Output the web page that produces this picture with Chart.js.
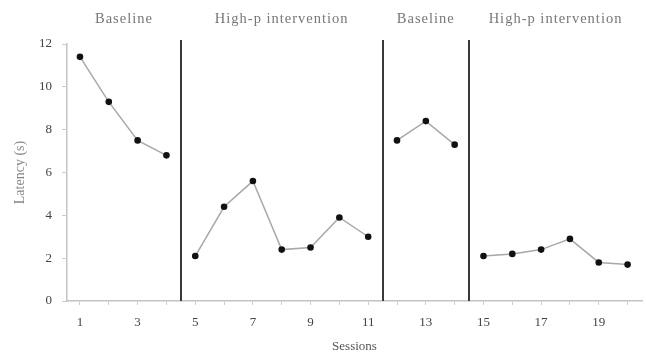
<!DOCTYPE html>
<html>
<head>
<meta charset="utf-8">
<script src="https://cdn.jsdelivr.net/npm/chart.js@4/dist/chart.umd.min.js"></script>
<style>
  html, body { margin: 0; padding: 0; background: #fff; }
  #wrap { width: 646px; height: 354px; }
</style>
</head>
<body>
<div id="wrap"><canvas id="chart" width="646" height="354"></canvas></div>
<script>
// data
const sessions = [1, 2, 3, 4, 5, 6, 7, 8, 9, 10, 11, 12, 13, 14, 15, 16, 17, 18, 19, 20];
const latency = [11.4, 9.3, 7.5, 6.8, 2.1, 4.4, 5.6, 2.4, 2.5, 3.9, 3.0, 7.5, 8.4, 7.3, 2.1, 2.2, 2.4, 2.9, 1.8, 1.7];
const phaseBreaks = [4.5, 11.5, 14.5];
const phaseLabels = ['Baseline', 'High-p intervention', 'Baseline', 'High-p intervention'];
const xTickLabels = [1, 3, 5, 7, 9, 11, 13, 15, 17, 19];
const yTicks = [0, 2, 4, 6, 8, 10, 12];

const X_MIN = 0.55, X_MAX = 20.5;
const serif = '"Liberation Serif", "DejaVu Serif", serif';

// split the series into one dataset per phase so lines break at phase changes
const bounds = [X_MIN, ...phaseBreaks, X_MAX];
const datasets = [];
for (let p = 0; p < bounds.length - 1; p++) {
    const pts = [];
    sessions.forEach((s, i) => {
        if (s > bounds[p] && s < bounds[p + 1]) pts.push({ x: s, y: latency[i] });
    });
    datasets.push({
        data: pts,
        borderColor: '#a8a8a8',
        borderWidth: 1.5,
        pointBackgroundColor: '#111',
        pointBorderWidth: 0,
        pointRadius: 3.3,
        tension: 0
    });
}

// phase lines + phase titles
const phasePlugin = {
    id: 'phases',
    afterDatasetsDraw(chart) {
        const { ctx, chartArea, scales } = chart;
        ctx.save();
        ctx.strokeStyle = '#3a3a3a';
        ctx.lineWidth = 2;
        phaseBreaks.forEach(b => {
            const px = Math.round(scales.x.getPixelForValue(b));
            ctx.beginPath();
            ctx.moveTo(px, chartArea.top - 4);
            ctx.lineTo(px, chartArea.bottom);
            ctx.stroke();
        });
        ctx.fillStyle = '#777';
        ctx.font = '14.5px ' + serif;
        ctx.letterSpacing = '1px';
        ctx.textAlign = 'center';
        ctx.textBaseline = 'middle';
        for (let p = 0; p < bounds.length - 1; p++) {
            const mid = (bounds[p] + bounds[p + 1]) / 2;
            ctx.fillText(phaseLabels[p], scales.x.getPixelForValue(mid), 19);
        }
        ctx.restore();
    }
};

new Chart(document.getElementById('chart'), {
    type: 'line',
    data: { datasets: datasets },
    plugins: [phasePlugin],
    options: {
        responsive: false,
        animation: false,
        layout: { padding: { top: 44, right: 1, left: 0, bottom: 0 } },
        plugins: { legend: { display: false }, tooltip: { enabled: false } },
        scales: {
            x: {
                type: 'linear',
                min: X_MIN,
                max: X_MAX,
                afterBuildTicks(axis) {
                    axis.ticks = sessions.map(v => ({ value: v }));
                },
                ticks: {
                    color: '#444',
                    font: { family: serif, size: 13 },
                    padding: 10,
                    maxRotation: 0,
                    autoSkip: false,
                    callback: v => xTickLabels.includes(v) ? String(v) : ''
                },
                grid: { drawOnChartArea: false, drawTicks: true, tickLength: 4, color: '#ccc' },
                border: { color: '#c4c4c4', width: 1.5 },
                title: {
                    display: true,
                    text: 'Sessions',
                    color: '#555',
                    font: { family: serif, size: 13 },
                    padding: { top: 2, bottom: 0 }
                },
                afterFit(axis) {
                    axis.height = 53;
                    axis.paddingRight = 0;
                }
            },
            y: {
                min: 0,
                max: 12,
                afterBuildTicks(axis) {
                    axis.ticks = yTicks.map(v => ({ value: v }));
                },
                ticks: {
                    color: '#444',
                    font: { family: serif, size: 13 },
                    padding: 10
                },
                grid: { drawOnChartArea: false, drawTicks: true, tickLength: 5, color: '#ccc' },
                border: { color: '#c4c4c4', width: 1.5 },
                title: {
                    display: true,
                    text: 'Latency (s)',
                    color: '#888',
                    font: { family: serif, size: 14 },
                    padding: { top: 12, bottom: 0 }
                },
                afterFit(axis) { axis.width = 67; }
            }
        }
    }
});
</script>
</body>
</html>
